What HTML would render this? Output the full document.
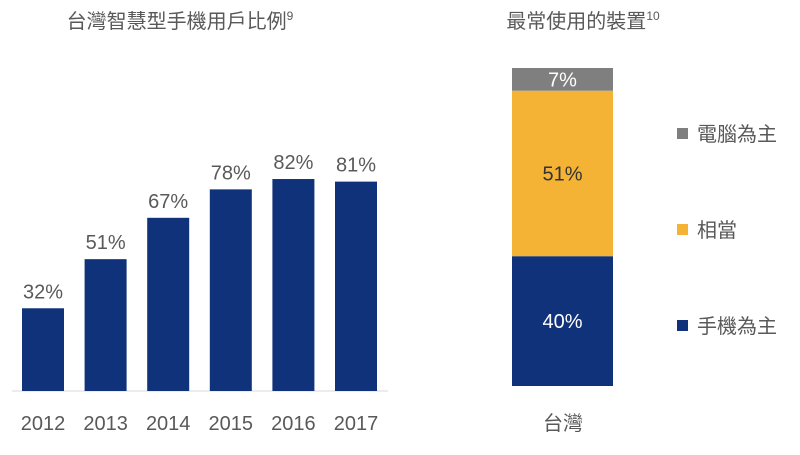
<!DOCTYPE html>
<html><head><meta charset="utf-8"><style>
body{margin:0;background:#fff;width:800px;height:450px;overflow:hidden;font-family:"Liberation Sans","Noto Sans CJK TC",sans-serif;}
svg text{font-family:"Liberation Sans","Noto Sans CJK TC",sans-serif;fill:#595959;}
</style></head><body>
<svg id="c" width="800" height="450">
<text x="180" y="28" font-size="20" text-anchor="middle">台灣智慧型手機用戶比例<tspan font-size="12" dy="-8">9</tspan></text>
<text x="583" y="28" font-size="20" text-anchor="middle">最常使用的裝置<tspan font-size="12" dy="-8">10</tspan></text>
<line x1="12" y1="391" x2="388" y2="391" stroke="#d9d9d9"/>
<g id="bars"></g>
<g id="stack"></g>
<text x="563" y="430" font-size="20" text-anchor="middle">台灣</text>
<g id="legend"></g>
</svg>
<script>
const years=["2012","2013","2014","2015","2016","2017"];
const usage=[32,51,67,78,82,81];
const stackCats=["手機為主","相當","電腦為主"];
const stackVals=[40,51,7];
const stackColors=["#10327a","#f5b335","#7f7f7f"];
const NS="http://www.w3.org/2000/svg";
function mk(t,a,p){const e=document.createElementNS(NS,t);for(const k in a)e.setAttribute(k,a[k]);p.appendChild(e);return e;}
const base=391,pp=2.585;
const yL=v=>base-v*pp;
const xL=i=>22+i*62.6;
const bars=document.getElementById('bars');
years.forEach((y,i)=>{
 const r=mk('rect',{x:xL(i),y:yL(usage[i]),width:42,height:base-yL(usage[i]),fill:'#10327a'},bars);
 
 
 const t=mk('text',{x:xL(i)+21,y:yL(usage[i])-10,'font-size':20,'text-anchor':'middle'},bars);t.textContent=usage[i]+'%';
 
 
 const l=mk('text',{x:xL(i)+21,y:430,'font-size':20,'text-anchor':'middle'},bars);l.textContent=y;
 
 
});
const sb=386,sp=3.245;
const st=document.getElementById('stack');
let acc=0;
stackVals.forEach((v,i)=>{
 const y0=sb-(acc+v)*sp,h=v*sp;
 const r=mk('rect',{x:512,y:y0,width:101,height:h,fill:stackColors[i]},st);
 
 
 const t=mk('text',{x:562.5,y:y0+h/2+7,'font-size':20,'text-anchor':'middle'},st);t.textContent=v+'%';
 t.style.fill=i==1?'#333':'#fff';
 
 
 acc+=v;
});
const lg=document.getElementById('legend');
const ly=[326,230,134];
stackCats.forEach((c,i)=>{
 const g=mk('g',{},lg);
 
 
 mk('rect',{x:677,y:ly[i]-6,width:11,height:11,fill:stackColors[i]},g);
 const t=mk('text',{x:697,y:ly[i]+7,'font-size':20},g);t.textContent=c;
});
</script>
</body></html>
